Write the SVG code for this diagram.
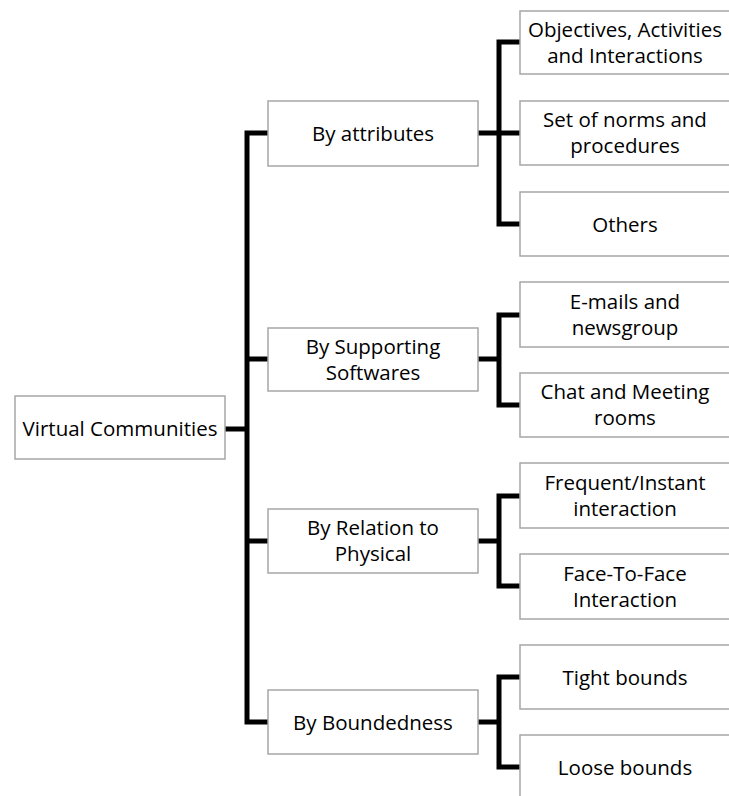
<svg xmlns="http://www.w3.org/2000/svg" width="729" height="796" viewBox="0 0 729 796">
  <style>
    .box { fill: #ffffff; stroke: #a6a6a6; stroke-width: 1.5; }
    .lbl { font-family: "Open Sans", "Liberation Sans", sans-serif; font-size: 20.5px; fill: #000000; text-anchor: middle; }
    .link { fill: none; stroke: #000000; stroke-width: 5; stroke-linejoin: miter; stroke-linecap: butt; }
  </style>
  <rect width="729" height="796" fill="#ffffff"/>

  <!-- connectors -->
  <g id="connectors">
    <!-- root to category trunk -->
    <path class="link" d="M225,429 H247"/>
    <path class="link" d="M268,133 H247 V722 H268"/>
    <path class="link" d="M247,359 H268"/>
    <path class="link" d="M247,541 H268"/>
    <!-- By attributes -->
    <path class="link" d="M478,133 H499"/>
    <path class="link" d="M520,42 H499 V224 H520"/>
    <path class="link" d="M499,133 H520"/>
    <!-- By Supporting Softwares -->
    <path class="link" d="M478,359 H499"/>
    <path class="link" d="M520,315 H499 V405 H520"/>
    <!-- By Relation to Physical -->
    <path class="link" d="M478,541 H499"/>
    <path class="link" d="M520,496 H499 V586 H520"/>
    <!-- By Boundedness -->
    <path class="link" d="M478,722 H499"/>
    <path class="link" d="M520,677 H499 V767 H520"/>
  </g>

  <!-- root -->
  <g id="virtual-communities">
    <rect class="box" x="15" y="396" width="210" height="63"/>
    <text class="lbl" x="120" y="436">Virtual Communities</text>
  </g>

  <!-- categories -->
  <g id="by-attributes">
    <rect class="box" x="268" y="101" width="210" height="65"/>
    <text class="lbl" x="373" y="141">By attributes</text>
  </g>
  <g id="by-supporting-softwares">
    <rect class="box" x="268" y="328" width="210" height="63"/>
    <text class="lbl" x="373" y="354">By Supporting</text>
    <text class="lbl" x="373" y="380">Softwares</text>
  </g>
  <g id="by-relation-to-physical">
    <rect class="box" x="268" y="509" width="210" height="64"/>
    <text class="lbl" x="373" y="535">By Relation to</text>
    <text class="lbl" x="373" y="561">Physical</text>
  </g>
  <g id="by-boundedness">
    <rect class="box" x="268" y="690" width="210" height="64"/>
    <text class="lbl" x="373" y="730">By Boundedness</text>
  </g>

  <!-- leaves -->
  <g id="objectives">
    <rect class="box" x="520" y="11" width="210" height="63"/>
    <text class="lbl" x="625" y="37">Objectives, Activities</text>
    <text class="lbl" x="625" y="63">and Interactions</text>
  </g>
  <g id="norms">
    <rect class="box" x="520" y="101" width="210" height="64"/>
    <text class="lbl" x="625" y="127">Set of norms and</text>
    <text class="lbl" x="625" y="153">procedures</text>
  </g>
  <g id="others">
    <rect class="box" x="520" y="192" width="210" height="64"/>
    <text class="lbl" x="625" y="232">Others</text>
  </g>
  <g id="emails">
    <rect class="box" x="520" y="282" width="210" height="65"/>
    <text class="lbl" x="625" y="309">E-mails and</text>
    <text class="lbl" x="625" y="335">newsgroup</text>
  </g>
  <g id="chat">
    <rect class="box" x="520" y="373" width="210" height="64"/>
    <text class="lbl" x="625" y="399">Chat and Meeting</text>
    <text class="lbl" x="625" y="425">rooms</text>
  </g>
  <g id="frequent">
    <rect class="box" x="520" y="463" width="210" height="65"/>
    <text class="lbl" x="625" y="490">Frequent/Instant</text>
    <text class="lbl" x="625" y="516">interaction</text>
  </g>
  <g id="face-to-face">
    <rect class="box" x="520" y="554" width="210" height="65"/>
    <text class="lbl" x="625" y="581">Face-To-Face</text>
    <text class="lbl" x="625" y="607">Interaction</text>
  </g>
  <g id="tight-bounds">
    <rect class="box" x="520" y="645" width="210" height="64"/>
    <text class="lbl" x="625" y="685">Tight bounds</text>
  </g>
  <g id="loose-bounds">
    <rect class="box" x="520" y="735" width="210" height="65"/>
    <text class="lbl" x="625" y="775">Loose bounds</text>
  </g>
</svg>
